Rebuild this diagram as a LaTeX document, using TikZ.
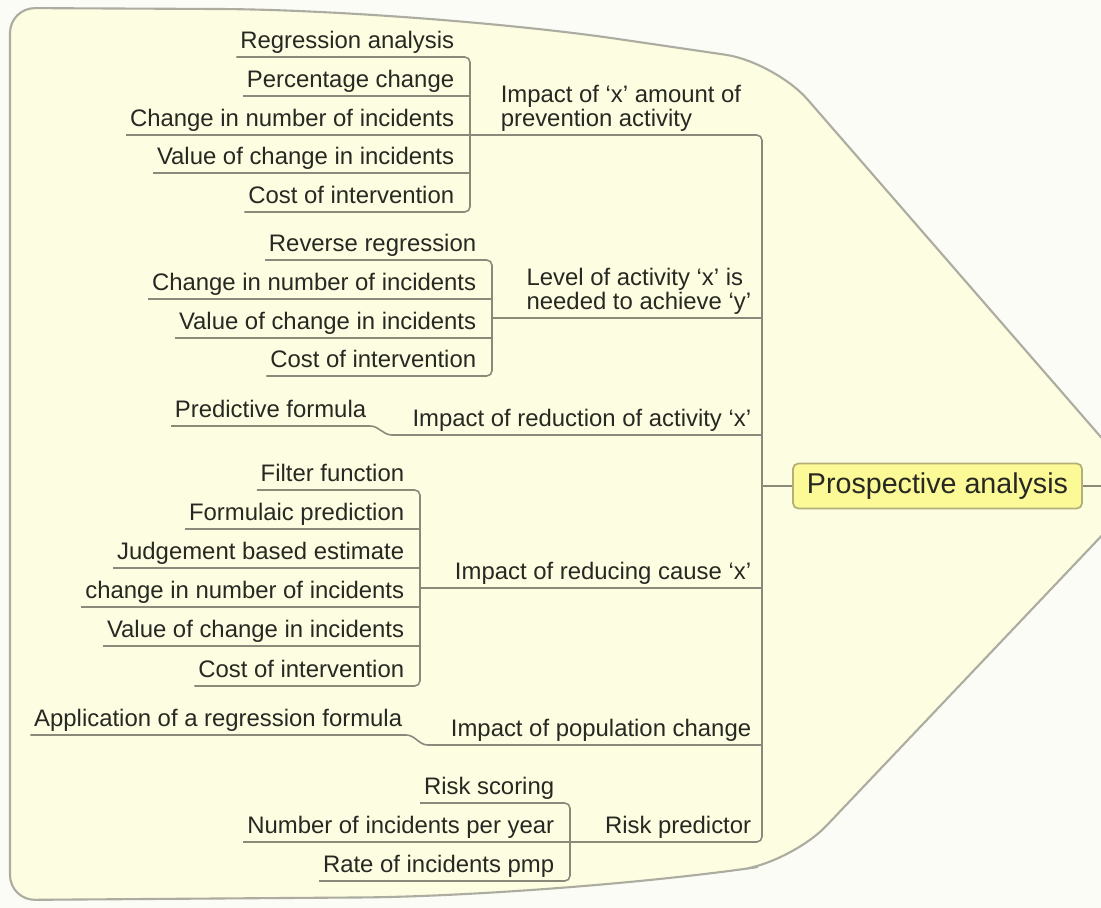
\documentclass[tikz,border=0pt]{standalone}
\usepackage{fontspec}
\setmainfont{Liberation Sans}
\usepackage{xcolor}
\definecolor{pagebg}{RGB}{252,252,246}
\definecolor{mapbg}{RGB}{253,253,226}
\definecolor{mapedge}{RGB}{172,172,160}
\definecolor{linkgray}{RGB}{140,136,122}
\definecolor{inkgray}{RGB}{40,40,34}
\definecolor{topicfill}{RGB}{251,250,150}
\definecolor{topicedge}{RGB}{178,175,120}

\begin{document}
\begin{tikzpicture}[x=0.02cm,y=-0.02cm]
\tikzset{leaf/.style={anchor=south east, inner xsep=2pt, inner ysep=1.5pt, text height=10pt, text depth=3pt, text=inkgray, font=\fontsize{13.6}{16}\selectfont}}
\tikzset{twoline/.style={anchor=south east, align=left, inner xsep=2pt, inner ysep=2pt, text=inkgray, font=\fontsize{13.6}{12.6}\selectfont}}
\tikzstyle{link} = [draw=linkgray, line width=0.9pt]
\tikzstyle{bracket} = [link, rounded corners=3pt]
\tikzstyle{centre} = [draw=topicedge, fill=topicfill, line width=1pt, rounded corners=3pt, minimum width=5.78cm, minimum height=0.9cm, text=inkgray, font=\fontsize{16.3}{18}\selectfont]

\useasboundingbox (0,0) rectangle (1101,908);
\clip (0,0) rectangle (1101,908);
\fill[pagebg] (0,0) rectangle (1101,908);
\draw[fill=mapbg, draw=mapedge, line width=1.2pt] (10,450) [rounded corners=0.5cm] -- (10,8) [rounded corners=4cm] -- (420,10) [rounded corners=1cm] -- (775,62) -- (1146,489) -- (792,862) [rounded corners=4cm] -- (560,896) [rounded corners=0.5cm] -- (10,900) -- cycle;

\coordinate (b1) at (470,135);
\coordinate (b2) at (492,318);
\coordinate (b3) at (392,435);
\coordinate (b4) at (420,588);
\coordinate (b5) at (428,745);
\coordinate (b6) at (570,842);
\coordinate (m) at (762,486);
\coordinate (edge) at (1110,486);

\node[centre] (pa) at (937.5,486) {Prospective analysis};

\node[twoline] (t1) at (745,135) {Impact of `x' amount of\\prevention activity};
\node[twoline] (t2) at (755,318) {Level of activity `x' is\\needed to achieve `y'};
\node[leaf] (t3) at (755,435) {Impact of reduction of activity `x'};
\node[leaf] (t4) at (755,588) {Impact of reducing cause `x'};
\node[leaf] (t5) at (755,745) {Impact of population change};
\node[leaf] (t6) at (755,842) {Risk predictor};

\node[leaf] (r1) at (458,57) {Regression analysis};
\node[leaf] (r2) at (458,96) {Percentage change};
\node[leaf] (r3) at (458,135) {Change in number of incidents};
\node[leaf] (r4) at (458,173) {Value of change in incidents};
\node[leaf] (r5) at (458,212) {Cost of intervention};

\node[leaf] (s1) at (480,260) {Reverse regression};
\node[leaf] (s2) at (480,299) {Change in number of incidents};
\node[leaf] (s3) at (480,338) {Value of change in incidents};
\node[leaf] (s4) at (480,376) {Cost of intervention};

\node[leaf] (p1) at (370,426) {Predictive formula};

\node[leaf] (f1) at (408,490) {Filter function};
\node[leaf] (f2) at (408,529) {Formulaic prediction};
\node[leaf] (f3) at (408,568) {Judgement based estimate};
\node[leaf] (f4) at (408,607) {change in number of incidents};
\node[leaf] (f5) at (408,646) {Value of change in incidents};
\node[leaf] (f6) at (408,686) {Cost of intervention};

\node[leaf] (a1) at (406,735) {Application of a regression formula};

\node[leaf] (k1) at (558,803) {Risk scoring};
\node[leaf] (k2) at (558,842) {Number of incidents per year};
\node[leaf] (k3) at (558,881) {Rate of incidents pmp};

\draw[bracket] (b1) -- (m |- b1) -- (m |- b6) -- (b6);
\foreach \b in {b2,b3,b4,b5}
  \draw[link] (\b) -- (m |- \b);
\draw[link] (m) -- (pa.west);
\draw[link] (pa.east) -- (edge);

\draw[bracket] (r1.south west) -- (b1 |- r1.south) -- (b1 |- r5.south) -- (r5.south west);
\foreach \n in {r2,r3,r4}
  \draw[link] (\n.south west) -- (b1 |- \n.south);

\draw[bracket] (s1.south west) -- (b2 |- s1.south) -- (b2 |- s4.south) -- (s4.south west);
\foreach \n in {s2,s3}
  \draw[link] (\n.south west) -- (b2 |- \n.south);

\draw[link] (p1.south west) -- (p1.south east) to[out=0,in=180] (b3);

\draw[bracket] (f1.south west) -- (b4 |- f1.south) -- (b4 |- f6.south) -- (f6.south west);
\foreach \n in {f2,f3,f4,f5}
  \draw[link] (\n.south west) -- (b4 |- \n.south);

\draw[link] (a1.south west) -- (a1.south east) to[out=0,in=180] (b5);

\draw[bracket] (k1.south west) -- (b6 |- k1.south) -- (b6 |- k3.south) -- (k3.south west);
\draw[link] (k2.south west) -- (b6 |- k2.south);
\end{tikzpicture}
\end{document}
